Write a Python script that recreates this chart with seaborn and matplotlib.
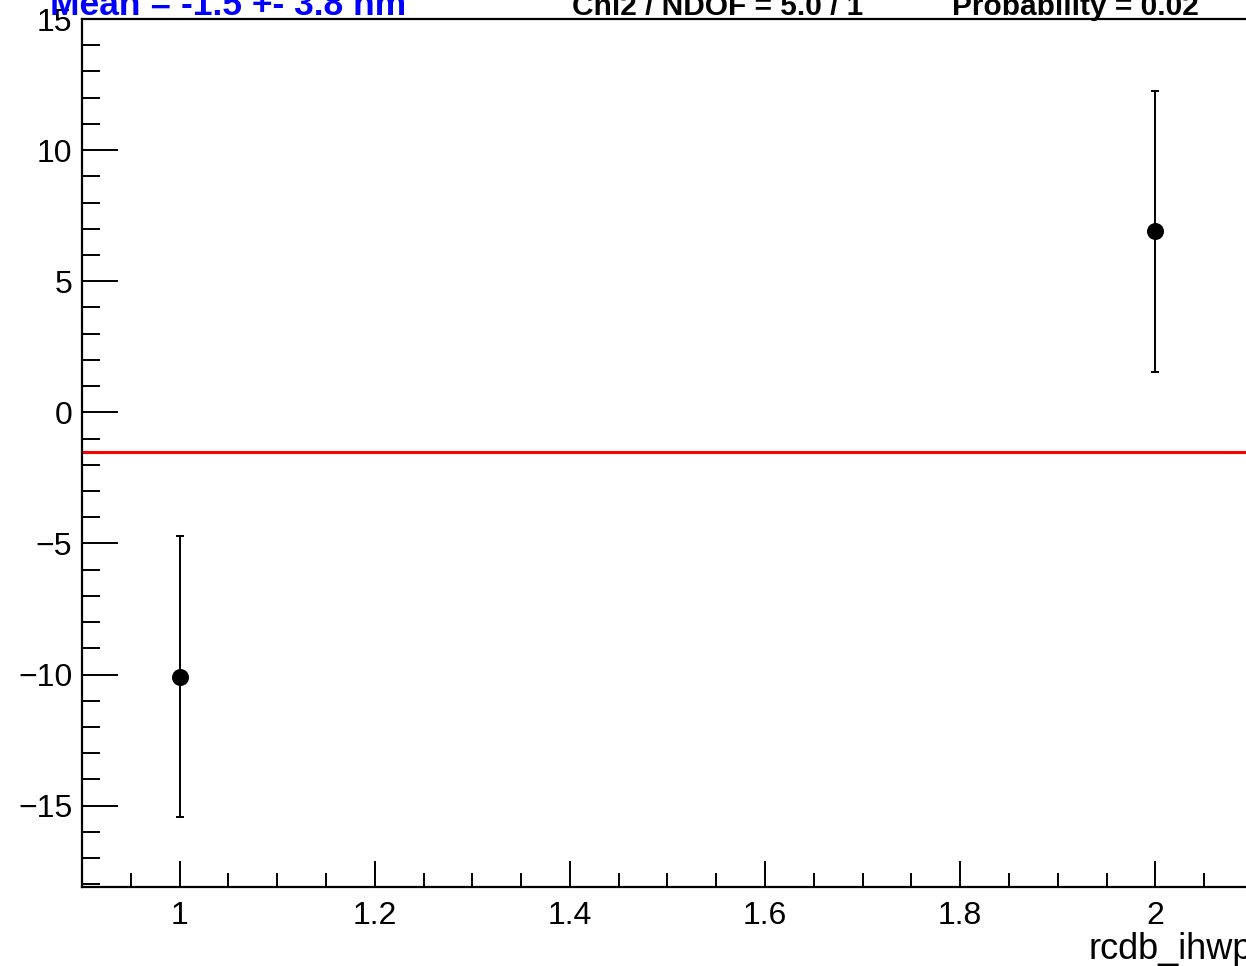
import numpy as np
import pandas as pd
import seaborn as sns
import matplotlib.pyplot as plt
from matplotlib.ticker import MultipleLocator

# values
ihwp = [1, 2]
value = [-10.08, 6.91]
error = [5.35, 5.36]
mean_val = -1.5
mean_txt = "Mean = -1.5 +- 3.8 nm"
chi2_txt = "Chi2 / NDOF = 5.0 / 1"
prob_txt = "Probability = 0.02"

df = pd.DataFrame({"rcdb_ihwp": ihwp, "value": value, "error": error})

sns.set_theme(style="ticks")
plt.rcParams['font.family'] = ['Liberation Sans', 'DejaVu Sans']

fig = plt.figure(figsize=(12.46, 9.66), dpi=100)
ax = fig.add_axes([0.0658, 0.0818, 0.9398, 0.8985])

# red mean line
ax.axhline(mean_val, color='red', lw=2.2, zorder=1)

# error bars + points
ax.errorbar(df['rcdb_ihwp'], df['value'], yerr=df['error'], fmt='none',
            ecolor='black', elinewidth=1.4, capsize=3, capthick=1.4, zorder=2)
sns.scatterplot(data=df, x='rcdb_ihwp', y='value', color='black', s=150,
                edgecolor='black', linewidth=0, ax=ax, zorder=3)

ax.set_xlim(0.9, 2.1)
ax.set_ylim(-18.1, 15)

ax.xaxis.set_major_locator(MultipleLocator(0.2))
ax.xaxis.set_minor_locator(MultipleLocator(0.05))
ax.yaxis.set_major_locator(MultipleLocator(5))
ax.yaxis.set_minor_locator(MultipleLocator(1))
ax.xaxis.set_major_formatter(plt.FuncFormatter(lambda v, p: f"{v:g}"))
ax.yaxis.set_major_formatter(plt.FuncFormatter(lambda v, p: f"{v:g}".replace('-', '\u2212')))

ax.tick_params(axis='both', which='both', direction='in', colors='black',
               labelsize=23, width=1.4)
ax.tick_params(axis='x', which='major', length=19, pad=10)
ax.tick_params(axis='x', which='minor', length=10)
ax.tick_params(axis='y', which='major', length=26, pad=7)
ax.tick_params(axis='y', which='minor', length=13)
ax.tick_params(top=False, right=False, which='both')

for side in ['left', 'bottom', 'top', 'right']:
    ax.spines[side].set_visible(True)
    ax.spines[side].set_color('black')
    ax.spines[side].set_linewidth(1.6)

ax.set_ylabel('')
ax.set_xlabel('rcdb_ihwp', fontsize=26, ha='right', color='black')
ax.xaxis.set_label_coords(1.0, -0.052)
ax.grid(False)

# header texts, partly cut off at the top like the reference
fig.text(0.040, 0.984, mean_txt, color='blue', fontsize=25.5, fontweight='bold', va='baseline')
fig.text(0.459, 0.984, chi2_txt, color='black', fontsize=21.5, fontweight='bold', va='baseline')
fig.text(0.764, 0.984, prob_txt, color='black', fontsize=21.5, fontweight='bold', va='baseline')

fig.savefig('out.png', dpi=100, facecolor='white')
